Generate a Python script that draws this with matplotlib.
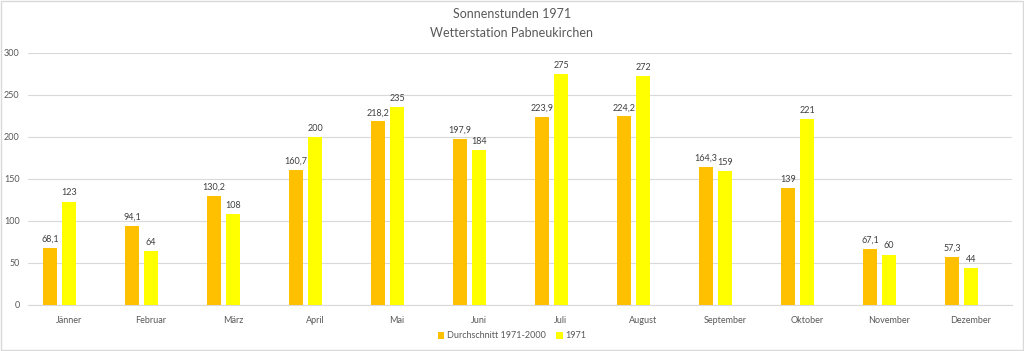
import numpy as np
import matplotlib.pyplot as plt
from matplotlib.patches import Rectangle

plt.rcParams['font.family'] = ['Lato', 'DejaVu Sans']

monate = ['Jänner', 'Februar', 'März', 'April', 'Mai', 'Juni', 'Juli',
          'August', 'September', 'Oktober', 'November', 'Dezember']
durchschnitt = [68.1, 94.1, 130.2, 160.7, 218.2, 197.9, 223.9, 224.2, 164.3, 139, 67.1, 57.3]
jahr_1971 = [123, 64, 108, 200, 235, 184, 275, 272, 159, 221, 60, 44]

grau = '#595959'
fig = plt.figure(figsize=(10.24, 3.51), dpi=100)
ax = fig.add_axes([28 / 1024, 1 - 305 / 351, 984 / 1024, 252.3 / 351])

x = np.arange(len(monate))
w = 0.17
b1 = ax.bar(x - 0.23, durchschnitt, w, color='#FFC000', label='Durchschnitt 1971-2000', zorder=3)
b2 = ax.bar(x, jahr_1971, w, color='#FFFF00', label='1971', zorder=3)


def fmt(v):
    return f'{v:g}'.replace('.', ',')


for bars, vals in ((b1, durchschnitt), (b2, jahr_1971)):
    for r, v in zip(bars, vals):
        ax.annotate(fmt(v), (r.get_x() + r.get_width() / 2, v), xytext=(0, 3),
                    textcoords='offset points', ha='center', va='bottom',
                    fontsize=6.5, color='#404040')

ax.set_xlim(-0.5, 11.5)
ax.set_ylim(0, 300)
ax.set_yticks(range(0, 301, 50))
ax.set_xticks(x + 0.0)
ax.set_xticklabels(monate)
ax.tick_params(axis='both', length=0, labelsize=6.5, colors=grau)
ax.tick_params(axis='x', pad=8)
ax.tick_params(axis='y', pad=6)
ax.grid(axis='y', color='#d9d9d9', lw=0.8, zorder=0)
for s in ['top', 'right', 'left']:
    ax.spines[s].set_visible(False)
ax.spines['bottom'].set_color('#d9d9d9')

fig.text(0.5, 1 - 14 / 351, 'Sonnenstunden 1971', ha='center', va='center', fontsize=9, color=grau)
fig.text(0.5, 1 - 33 / 351, 'Wetterstation Pabneukirchen', ha='center', va='center', fontsize=9, color=grau)

fig.legend(loc='center', bbox_to_anchor=(0.5, 1 - 336 / 351), ncol=2, frameon=False,
           fontsize=6.5, handlelength=0.7, handleheight=0.7, handletextpad=0.3,
           columnspacing=1.2, labelcolor=grau)

fig.patches.append(Rectangle((0.001, 0.002), 0.998, 0.996, transform=fig.transFigure,
                             fill=False, edgecolor='#d9d9d9', lw=1))

fig.savefig('out.png', dpi=100)
